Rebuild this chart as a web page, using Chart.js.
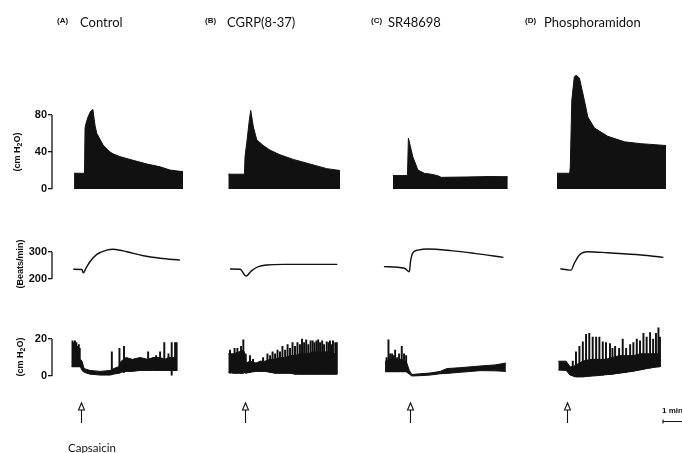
<!DOCTYPE html>
<html>
<head>
<meta charset="utf-8">
<script src="https://cdn.jsdelivr.net/npm/chart.js@4.4.1/dist/chart.umd.min.js"></script>
<style>
  html, body { margin: 0; padding: 0; background: #fff; }
  #wrap { position: relative; width: 682px; height: 453px; overflow: hidden; }
  #wrap canvas { position: absolute; left: 0; top: 0; }
  .lbl { position: absolute; white-space: nowrap; color: #111; line-height: 1; }
  .tag { font: bold 8px 'Liberation Sans', sans-serif; }
  .name { font: 13px Lato, sans-serif; }
  .ytitle { font: bold 9px 'Liberation Sans', sans-serif; transform: translate(-50%, -50%) rotate(-90deg); }
  .ytitle sub { font-size: 7px; vertical-align: -2px; }
</style>
</head>
<body>
<div id="wrap">
  <canvas id="row1" width="682" height="453"></canvas>
  <canvas id="row2" width="682" height="453"></canvas>
  <canvas id="row3" width="682" height="453"></canvas>

  <div class="lbl tag" style="left:57px;top:16px">(A)</div>
  <div class="lbl name" style="left:80px;top:14px">Control</div>
  <div class="lbl tag" style="left:205px;top:16px">(B)</div>
  <div class="lbl name" style="left:227px;top:14px">CGRP(8-37)</div>
  <div class="lbl tag" style="left:371px;top:16px">(C)</div>
  <div class="lbl name" style="left:388px;top:14px">SR48698</div>
  <div class="lbl tag" style="left:525px;top:16px">(D)</div>
  <div class="lbl name" style="left:544px;top:14px">Phosphoramidon</div>

  <div class="lbl ytitle" style="left:17px;top:152px">(cm H<sub>2</sub>O)</div>
  <div class="lbl ytitle" style="left:20px;top:264px">(Beats/min)</div>
  <div class="lbl ytitle" style="left:20px;top:357px">(cm H<sub>2</sub>O)</div>

  <div class="lbl" style="left:68px;top:441px;font:11.5px Lato, sans-serif">Capsaicin</div>
  <div class="lbl" style="left:662px;top:406px;font:bold 8px 'Liberation Sans', sans-serif">1 min</div>
</div>

<script>
// time in minutes, 0 = capsaicin given (arrow)
var panelOffsets = [0, 8.63, 17.32, 25.58];
var xMin = -1.53, xMax = 31.63;

// row 1: insufflation pressure (cm H2O), upper envelope
var tA1 = [-0.37, 0.18, 0.21, 0.26, 0.37, 0.50, 0.62, 0.74, 0.83, 1.16, 1.53, 1.68, 2.05, 2.74, 3.47, 4.16, 4.68, 5.37];
var valA1 = [17, 17, 66, 71, 78, 84, 86, 68, 60, 47.5, 40, 38, 35, 31, 27, 24, 20.5, 18.7];
var tB1 = [-0.88, -0.03, 0.00, 0.09, 0.23, 0.30, 0.44, 0.62, 0.96, 1.32, 1.84, 2.54, 3.42, 4.30, 5.00];
var valB1 = [16, 16, 35, 50, 75, 85, 67, 53, 47, 42, 37, 32, 27, 22, 20];
var tC1 = [-0.91, -0.14, -0.09, 0.14, 0.41, 0.75, 1.10, 1.46, 1.63, 3.00, 4.20, 5.14];
var valC1 = [14.5, 14.5, 55, 35, 20.5, 17, 16, 14.4, 12.6, 13, 13.5, 13.3];
var tD1 = [-0.53, 0.14, 0.17, 0.25, 0.38, 0.47, 0.65, 0.91, 1.09, 1.44, 2.14, 3.02, 3.89, 5.21];
var valD1 = [17, 17, 24, 96, 121, 123, 120, 96, 78, 66, 57, 51, 49, 47];

// row 2: heart rate (beats/min)
var tA2 = [-0.41, 0.04, 0.12, 0.26, 0.47, 0.83, 1.35, 1.70, 2.41, 3.28, 4.16, 5.21];
var valA2 = [236, 235, 223, 240, 264, 291, 307, 310, 301, 286, 277, 270];
var tB2 = [-0.79, -0.26, 0.05, 0.35, 0.70, 1.14, 2.02, 4.86];
var valB2 = [237, 236, 211, 231, 246, 252, 254, 254];
var tC2 = [-1.38, -0.30, -0.04, 0.02, 0.14, 0.41, 0.93, 2.16, 3.38, 4.91];
var valC2 = [246, 240, 227, 264, 297, 307, 311, 305, 295, 280];
var tD2 = [-0.35, 0.12, 0.21, 0.38, 0.65, 1.09, 2.14, 3.89, 5.07];
var valD2 = [238, 233, 233, 258, 289, 301, 297, 289, 280];

// row 3: bladder pressure (cm H2O): dense band (low / high) and single contractions (spikes)
var tA3 = [-0.49, -0.04, 0.05, 0.16, 0.47, 1.00, 1.53, 1.72, 1.98, 2.11, 2.37, 2.70, 3.11, 3.50, 3.80, 4.12, 4.42, 4.60, 4.82, 5.05];
var highA3 = [8, 9, 8, 4, 3, 2.5, 3, 4, 5, 8, 10, 9, 10, 9, 10, 10, 9, 10, 10, 10];
var lowA3 = [5, 5, 3, 2, 1, 0.5, 0.5, 1, 1.5, 2, 2.5, 2.5, 3, 3, 3, 3, 3, 3, 3, 3];
var spikeTA = [-0.45, -0.40, -0.32, -0.25, -0.18, -0.12, -0.07, 1.62, 2.02, 2.26, 3.53, 3.95, 4.16, 4.38, 4.60, 4.77, 4.95, 5.03];
var spikeHiA = [19, 18, 19, 18, 16, 17, 15, 13, 15, 16, 13, 11, 13, 18, 12, 18, 18, 18];
var spikeLoA = [5, 5, 5, 5, 5, 5, 5, 1, 1.5, 2, 3, 3, 3, 3, 3, 0.5, 3, 3];

var tB3 = [-0.88, -0.63, -0.32, -0.09, 0.00, 0.05, 0.26, 0.58, 0.79, 1.05, 1.32, 1.58, 1.84,
           2.11, 2.37, 2.63, 2.89, 3.11, 3.33, 3.53, 3.74, 3.95, 4.16, 4.40, 4.63, 4.83];
var highB3 = [12, 12, 13, 14, 12, 7, 8, 7, 8, 8, 9, 9, 10, 10, 11, 11, 12, 12, 12, 13, 13, 13, 13, 13, 12, 12];
var lowB3 = [2, 1.5, 1.5, 1.5, 2, 1.5, 2, 2.5, 2.5, 2.5, 2, 1.5, 1.5, 1.5, 1.5, 1, 1, 1, 1, 1, 1, 1, 1, 1, 1, 1];
var spikeTB = [-0.79, -0.55, -0.40, -0.21, -0.09, 0.26, 0.42, 0.95, 1.18, 1.32,
               1.45, 1.58, 1.71, 1.84, 1.97, 2.11, 2.24, 2.37, 2.50, 2.63,
               2.76, 2.89, 3.00, 3.11, 3.22, 3.33, 3.45, 3.56, 3.66, 3.76,
               3.85, 3.95, 4.06, 4.16, 4.30, 4.40, 4.47, 4.55, 4.63, 4.75, 4.83];
var spikeHiB = [14, 15, 15, 16, 19.5, 11, 9, 10, 12, 11,
                13, 12, 14, 13, 16, 14, 17, 15, 18, 16,
                18, 17, 20, 18, 19.5, 17, 19, 19, 18, 19,
                19.5, 18, 19, 17, 18.5, 18, 19, 17, 19, 18, 18];
var spikeLoB = [1.5, 1.5, 1.5, 1.5, 1.5, 2, 2.5, 2.5, 2.5, 2,
                2, 1.5, 1.5, 1.5, 1.5, 1.5, 1.5, 1.5, 1.5, 1,
                1, 1, 1, 1, 1, 1, 1, 1, 1, 1,
                1, 1, 1, 1, 1, 1, 1, 1, 1, 1, 1];

var tC3 = [-1.32, -1.05, -0.79, -0.50, -0.21, -0.04, 0.09, 0.53, 1.05, 1.58, 1.93, 2.63, 3.68, 4.47, 5.04];
var highC3 = [8, 9, 9, 9, 8, 3, 0.8, 1.2, 1.6, 2.5, 4, 4.5, 5.4, 6, 7];
var lowC3 = [2.3, 2.3, 2.3, 2.3, 2.3, 1, 0, 0.2, 0.5, 1.2, 1.4, 2, 2.9, 2.8, 2.5];
var spikeTC = [-1.24, -1.14, -1.05, -0.95, -0.86, -0.79, -0.68, -0.58, -0.44, -0.32, -0.21];
var spikeHiC = [10, 19.5, 12, 12, 11, 14, 10, 12, 16, 12, 11];
var spikeLoC = [2.3, 2.3, 2.3, 2.3, 2.3, 2.3, 2.3, 2.3, 2.3, 2.3, 2.3];

var tD3 = [-0.46, -0.05, 0.16, 0.30, 0.47, 0.65, 0.83, 1.00, 1.35, 1.70, 2.05, 2.39, 2.74, 3.11, 3.49, 3.84, 4.19, 4.53, 4.89];
var highD3 = [8, 8, 5, 5, 6, 7, 8, 8.5, 9, 9, 9, 10, 11, 11, 11, 12, 12, 12, 12];
var lowD3 = [3.2, 3, 0.5, 0, -0.5, -0.5, -0.5, -0.3, 0, 0.3, 0.7, 1, 1.5, 2, 2.6, 3.3, 4, 4.6, 5];
var spikeTD = [0.30, 0.47, 0.65, 0.83, 1.00, 1.17, 1.35, 1.53, 1.70, 1.88,
               2.05, 2.26, 2.39, 2.53, 2.74, 2.93, 3.11, 3.32, 3.49, 3.67,
               3.84, 4.02, 4.19, 4.37, 4.53, 4.68, 4.81, 4.89];
var spikeHiD = [8, 13, 16, 18.5, 22.5, 23, 21, 21, 21, 18.5,
                18, 17.5, 15, 16, 15, 20, 15, 17, 18, 20,
                19, 23, 21, 23.5, 20, 23, 26, 21];
var spikeLoD = [0, 0, 0, 0, 0, 0, 0, 0.3, 0.3, 0.5,
                0.7, 1, 1, 1.2, 1.5, 1.8, 2, 2.3, 2.6, 3,
                3.3, 3.6, 4, 4.3, 4.6, 5, 5, 5];

var ink = '#111';

function pts(times, vals, panel) {
    return times.map(function (t, i) {
        return { x: t + panelOffsets[panel], y: vals[i] };
    });
}

// vertical axis line over the tick range, plus arrows and time bar on the last row
var traceAxis = {
    id: 'traceAxis',
    afterDraw: function (chart, args, opts) {
        var c = chart.ctx;
        var ys = chart.scales.y;
        var xs = chart.scales.x;
        var x0 = chart.chartArea.left;
        c.save();
        c.strokeStyle = ink;
        c.lineWidth = 1.3;
        c.beginPath();
        c.moveTo(x0, ys.getPixelForValue(opts.from));
        c.lineTo(x0, ys.getPixelForValue(opts.to));
        c.stroke();

        if (opts.markers) {
            c.lineWidth = 1.1;
            panelOffsets.forEach(function (off) {
                var x = Math.round(xs.getPixelForValue(off)) + 0.5;
                c.beginPath();
                c.moveTo(x, 410);
                c.lineTo(x, 423);
                c.stroke();
                c.beginPath();
                c.moveTo(x - 3, 410);
                c.lineTo(x, 403);
                c.lineTo(x + 3, 410);
                c.closePath();
                c.stroke();
            });
            var b1 = xs.getPixelForValue(xMax - 1);
            var b2 = xs.getPixelForValue(xMax);
            c.beginPath();
            c.moveTo(b1, 421.5);
            c.lineTo(b2, 421.5);
            c.moveTo(b1, 419.5);
            c.lineTo(b1, 423.5);
            c.stroke();
        }
        c.restore();
    }
};

function makeRow(id, cfg) {
    var tMin = cfg.ticks[0];
    var tMax = cfg.ticks[cfg.ticks.length - 1];
    var k = (cfg.lowPx - cfg.highPx) / (tMax - tMin);
    var padTop = cfg.highPx - (cfg.max - tMax) * k;
    var padBottom = 453 - (cfg.lowPx + (tMin - cfg.min) * k);

    return new Chart(document.getElementById(id).getContext('2d'), {
        type: 'line',
        data: { datasets: cfg.datasets },
        options: {
            responsive: false,
            animation: false,
            events: [],
            layout: { padding: { left: 0, right: 0, top: padTop, bottom: padBottom } },
            elements: { point: { radius: 0 }, line: { tension: 0 } },
            plugins: {
                legend: { display: false },
                tooltip: { enabled: false },
                traceAxis: { from: tMin, to: tMax, markers: cfg.markers }
            },
            scales: {
                x: { type: 'linear', min: xMin, max: xMax, offset: false, display: false },
                y: {
                    min: cfg.min,
                    max: cfg.max,
                    beginAtZero: false,
                    afterBuildTicks: function (s) {
                        s.ticks = cfg.ticks.map(function (v) { return { value: v }; });
                    },
                    afterFit: function (s) { s.width = 52; },
                    border: { display: false },
                    grid: { drawOnChartArea: false, tickLength: 4, color: ink, lineWidth: 1.3 },
                    ticks: {
                        color: ink,
                        padding: 1,
                        font: { family: 'Liberation Sans', weight: 'bold', size: 11 }
                    }
                }
            }
        },
        plugins: [traceAxis]
    });
}

function areaSet(data) {
    return { data: data, borderColor: ink, borderWidth: 1, backgroundColor: ink, fill: 'origin' };
}
function lineSet(data) {
    return { data: data, borderColor: ink, borderWidth: 1.4, fill: false, cubicInterpolationMode: 'monotone' };
}
function bladderSets(times, low, high, spikeT, spikeLo, spikeHi, panel) {
    var spikes = spikeT.map(function (t, i) {
        return { x: t + panelOffsets[panel], y: [spikeLo[i], spikeHi[i]] };
    });
    return [
        { data: pts(times, low, panel), borderColor: ink, borderWidth: 1, fill: false },
        { data: pts(times, high, panel), borderColor: ink, borderWidth: 1, backgroundColor: ink, fill: '-1' },
        { type: 'bar', data: spikes, backgroundColor: ink, borderWidth: 0, barThickness: 1.3, grouped: false }
    ];
}

makeRow('row1', {
    ticks: [0, 40, 80], lowPx: 189, highPx: 115, min: 0, max: 130,
    datasets: [
        areaSet(pts(tA1, valA1, 0)),
        areaSet(pts(tB1, valB1, 1)),
        areaSet(pts(tC1, valC1, 2)),
        areaSet(pts(tD1, valD1, 3))
    ]
});

makeRow('row2', {
    ticks: [200, 300], lowPx: 279, highPx: 252, min: 190, max: 320,
    datasets: [
        lineSet(pts(tA2, valA2, 0)),
        lineSet(pts(tB2, valB2, 1)),
        lineSet(pts(tC2, valC2, 2)),
        lineSet(pts(tD2, valD2, 3))
    ]
});

makeRow('row3', {
    ticks: [0, 20], lowPx: 376, highPx: 339, min: -2, max: 28, markers: true,
    datasets: [].concat(
        bladderSets(tA3, lowA3, highA3, spikeTA, spikeLoA, spikeHiA, 0),
        bladderSets(tB3, lowB3, highB3, spikeTB, spikeLoB, spikeHiB, 1),
        bladderSets(tC3, lowC3, highC3, spikeTC, spikeLoC, spikeHiC, 2),
        bladderSets(tD3, lowD3, highD3, spikeTD, spikeLoD, spikeHiD, 3)
    )
});
</script>
</body>
</html>
